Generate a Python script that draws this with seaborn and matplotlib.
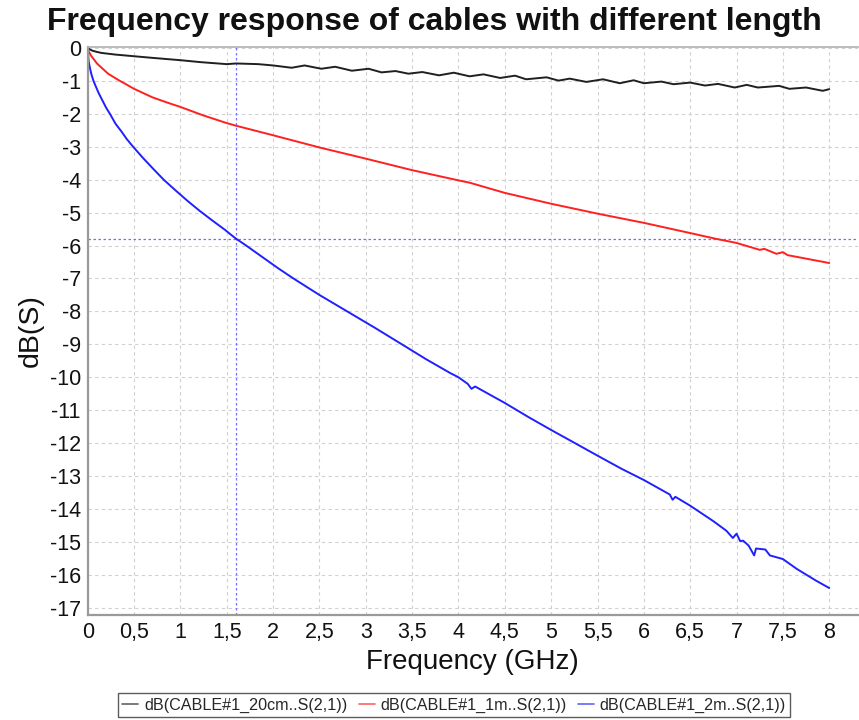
import numpy as np
import pandas as pd
import matplotlib
matplotlib.use("Agg")
import matplotlib.pyplot as plt
from matplotlib.ticker import FuncFormatter
import seaborn as sns

# S21 magnitude (dB) vs frequency (GHz) for three cable lengths
freq_20cm = [0.0, 0.02, 0.05, 0.1, 0.15, 0.3, 0.5, 0.7, 1.0, 1.22, 1.5, 1.6, 1.84, 2.0, 2.2,
             2.34, 2.52, 2.67, 2.85, 3.03, 3.17, 3.32, 3.46, 3.61, 3.79, 3.95, 4.12, 4.27,
             4.45, 4.61, 4.73, 4.95, 5.08, 5.2, 5.38, 5.56, 5.74, 5.89, 6.0, 6.19, 6.32,
             6.5, 6.66, 6.8, 6.98, 7.11, 7.23, 7.46, 7.57, 7.75, 7.93, 8.0]
db_20cm = [0.0, -0.04, -0.08, -0.12, -0.15, -0.2, -0.25, -0.3, -0.37, -0.43, -0.49, -0.47,
           -0.49, -0.53, -0.6, -0.53, -0.63, -0.57, -0.69, -0.63, -0.74, -0.7, -0.78,
           -0.73, -0.83, -0.75, -0.86, -0.8, -0.91, -0.84, -0.95, -0.89, -0.99, -0.93,
           -1.03, -0.95, -1.07, -0.98, -1.07, -1.02, -1.1, -1.05, -1.14, -1.09, -1.2,
           -1.12, -1.2, -1.15, -1.24, -1.2, -1.3, -1.25]

freq_1m = [0.0, 0.01, 0.02, 0.04, 0.06, 0.1, 0.15, 0.22, 0.33, 0.4, 0.5, 0.7, 0.85, 1.0,
           1.25, 1.5, 1.6, 2.0, 2.5, 3.0, 3.5, 4.0, 4.12, 4.5, 5.0, 5.5, 6.0, 6.5, 6.77,
           7.0, 7.25, 7.3, 7.43, 7.5, 7.55, 8.0]
db_1m = [0.0, -0.1, -0.15, -0.25, -0.32, -0.47, -0.6, -0.78, -0.97, -1.08, -1.24, -1.5,
         -1.65, -1.79, -2.05, -2.28, -2.36, -2.65, -3.02, -3.36, -3.71, -4.02, -4.09,
         -4.4, -4.73, -5.03, -5.31, -5.62, -5.79, -5.92, -6.13, -6.1, -6.25, -6.2,
         -6.29, -6.53]

freq_2m = [0.0, 0.01, 0.02, 0.03, 0.04, 0.06, 0.08, 0.12, 0.16, 0.2, 0.24, 0.3, 0.36,
           0.42, 0.49, 0.6, 0.7, 0.82, 0.95, 1.08, 1.21, 1.35, 1.48, 1.55, 1.6, 1.71,
           1.9, 2.05, 2.22, 2.5, 2.8, 3.1, 3.39, 3.65, 3.91, 4.0, 4.1, 4.14, 4.18, 4.5,
           4.75, 5.0, 5.27, 5.5, 5.76, 6.0, 6.28, 6.31, 6.34, 6.5, 6.75, 6.89, 6.96, 7.0,
           7.04, 7.07, 7.13, 7.19, 7.21, 7.31, 7.36, 7.5, 7.65, 7.86, 8.0]
db_2m = [0.0, -0.4, -0.55, -0.68, -0.8, -0.98, -1.12, -1.38, -1.6, -1.82, -2.0, -2.3, -2.52,
         -2.76, -3.0, -3.35, -3.65, -4.0, -4.33, -4.65, -4.95, -5.25, -5.52, -5.68,
         -5.79, -6.0, -6.38, -6.68, -7.0, -7.5, -8.0, -8.5, -9.0, -9.45, -9.87, -10.0,
         -10.2, -10.35, -10.28, -10.78, -11.2, -11.6, -12.02, -12.38, -12.78, -13.12,
         -13.56, -13.72, -13.63, -13.9, -14.37, -14.66, -14.88, -14.75, -14.98, -14.96,
         -15.11, -15.41, -15.2, -15.23, -15.41, -15.52, -15.82, -16.18, -16.4]

series_names = ["dB(CABLE#1_20cm..S(2,1))", "dB(CABLE#1_1m..S(2,1))", "dB(CABLE#1_2m..S(2,1))"]
series_colors = ["#202020", "#ff2020", "#2020ff"]

# Marker readout at 1.6 GHz on the 2 m cable
marker_freq = 1.6
marker_db = -5.79

x_ticks = np.arange(0, 8.01, 0.5)
y_ticks = np.arange(0, -17.01, -1)

frames = []
for name, f, d in zip(series_names, [freq_20cm, freq_1m, freq_2m], [db_20cm, db_1m, db_2m]):
    frames.append(pd.DataFrame({"freq": f, "db": d, "trace": name}))
df = pd.concat(frames, ignore_index=True)

sns.set_style("white")
plt.rcParams["font.family"] = ["Liberation Sans", "DejaVu Sans"]

fig = plt.figure(figsize=(8.59, 7.2), dpi=100)
ax = fig.add_axes([0.1021, 0.1458, 0.8967, 0.7889])

sns.lineplot(data=df, x="freq", y="db", hue="trace", hue_order=series_names,
             palette=series_colors, estimator=None, sort=False, linewidth=1.4,
             legend=False, ax=ax)

ax.axvline(marker_freq, color="#7070ff", lw=0.9, ls=(0, (2, 2)), zorder=1)
ax.axhline(marker_db, color="#7070ff", lw=0.9, ls=(0, (2, 2)), zorder=1)

ax.set_xlim(0, 8.31)
ax.set_ylim(-17.22, 0.03)
ax.set_xticks(x_ticks)
ax.set_yticks(y_ticks)
ax.xaxis.set_major_formatter(FuncFormatter(lambda v, p: f"{v:g}".replace(".", ",")))
ax.yaxis.set_major_formatter(FuncFormatter(lambda v, p: f"{int(round(v))}"))
ax.tick_params(axis="both", direction="in", length=8, width=1.2, color="#909090",
               labelsize=15.5, labelcolor="#111111")
ax.tick_params(axis="x", pad=5)
ax.tick_params(axis="y", pad=5)

ax.grid(True, color="#d0d0d0", lw=0.8, ls=(0, (3, 3)))
for side in ["left", "bottom"]:
    ax.spines[side].set_color("#9a9a9a")
    ax.spines[side].set_linewidth(1.6)
ax.spines["top"].set_color("#b0b0b0")
ax.spines["top"].set_linewidth(1.2)
ax.spines["right"].set_visible(False)

ax.set_xlabel("Frequency (GHz)", fontsize=20, va="center", color="#111111")
ax.xaxis.set_label_coords(0.5, -0.083)
ax.set_ylabel("dB(S)", fontsize=20.5, va="center", color="#111111")
ax.yaxis.set_label_coords(-0.074, 0.5)

fig.text(0.506, 0.969, "Frequency response of cables with different length",
         fontsize=23, fontweight="bold", ha="center", va="center", color="#111111")

handles = [plt.Line2D([], [], color=c, lw=1.2, alpha=0.7) for c in series_colors]
leg = fig.legend(handles, series_names, loc="center", bbox_to_anchor=(454 / 859, 0.0208),
                 ncol=3, fontsize=11.6, frameon=True, fancybox=False, edgecolor="#333333",
                 borderpad=0.25, handlelength=1.0, handletextpad=0.35, columnspacing=0.7,
                 borderaxespad=0)
leg.get_frame().set_linewidth(1.0)

fig.savefig("out.png", dpi=100)
